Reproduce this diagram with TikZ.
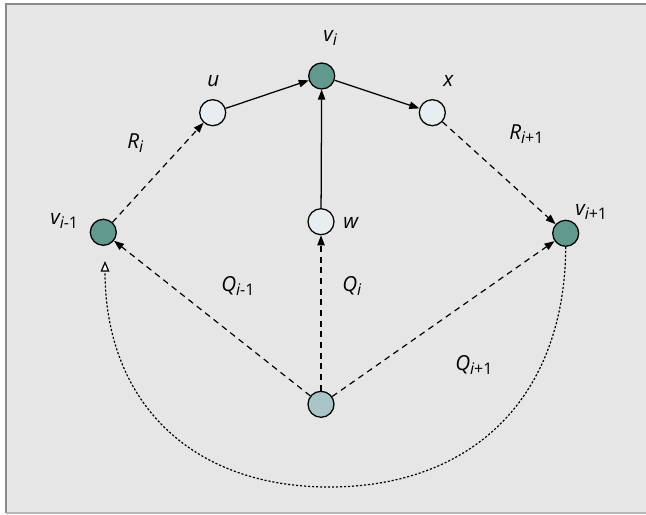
\documentclass[tikz,border=0pt]{standalone}
\usepackage{fontspec}
\setmainfont{Open Sans}
\usetikzlibrary{arrows.meta}
\definecolor{bgfill}{HTML}{E6E6E6}
\definecolor{framedark}{HTML}{8A8A8A}
\definecolor{framelight}{HTML}{B4B4B4}
\definecolor{nodedark}{HTML}{62998F}
\definecolor{nodelight}{HTML}{E8EEF0}
\definecolor{nodemid}{HTML}{A9C5C8}
\newcommand\lowsub[1]{\raisebox{-0.45ex}{\fontsize{12}{14}\selectfont #1}}
\begin{document}
\begin{tikzpicture}[x=0.75pt,y=-0.75pt,
  nd/.style={circle,draw=black,line width=0.95pt,minimum size=19.5pt,inner sep=0pt},
  dark/.style={nd,fill=nodedark},
  light/.style={nd,fill=nodelight},
  mid/.style={nd,fill=nodemid},
  lbl/.style={font=\fontsize{15.5}{18}\selectfont\itshape,inner sep=0pt,anchor=base west},
  sol/.style={line width=0.95pt,-{Triangle[length=7.5pt,width=5.5pt]}},
  dsh/.style={line width=0.9pt,dash pattern=on 4.5pt off 3.5pt,-{Triangle[length=7.5pt,width=5.5pt]}},
  dotted arc/.style={line width=0.9pt,dash pattern=on 1.6pt off 1.4pt,-{Triangle[open,fill=white,length=8pt,width=6.5pt]}}
]
\useasboundingbox (0,0) rectangle (646,514);
\fill[white] (0,0) rectangle (646,514);
\fill[bgfill] (6,4) rectangle (646,513);
\draw[framedark,line width=1.5pt] (6,513) -- (6,4) -- (646,4);
\draw[framelight,line width=1.2pt] (6,513) -- (646,513);

% nodes
\node[dark]  (vi)  at (321.7,76) {};
\node[light] (u)   at (212.7,112.7) {};
\node[light] (x)   at (432.3,112.7) {};
\node[light] (w)   at (321,221.7) {};
\node[dark]  (vim) at (103.3,232.3) {};
\node[dark]  (vip) at (565.7,233.3) {};
\node[mid]   (s)   at (321,404.3) {};
\coordinate (tip) at (105,261);

% labels
\node[lbl] (lvi)  at (323,41)  {v\lowsub{i}};
\node[lbl] (lu)   at (207,86)  {u};
\node[lbl] (lx)   at (443,86)  {x};
\node[lbl] (lw)   at (343,228) {w};
\node[lbl] (lvim) at (50,224)  {v\lowsub{\itshape i\upshape -1}};
\node[lbl] (lvip) at (575,215) {v\lowsub{\itshape i\upshape +1}};
\node[lbl] (lri)  at (127,148) {R\lowsub{i}};
\node[lbl] (lrip) at (509,139) {R\lowsub{\itshape i\upshape +1}};
\node[lbl] (lqim) at (221,291) {Q\lowsub{\itshape i\upshape -1}};
\node[lbl] (lqi)  at (342,291) {Q\lowsub{i}};
\node[lbl] (lqip) at (455,370) {Q\lowsub{\itshape i\upshape +1}};

% connectors
\draw[sol] (u) -- (vi);
\draw[sol] (vi) -- (x);
\draw[sol] (w) -- (vi);
\draw[dsh] (vim) -- (u);
\draw[dsh] (x) -- (vip);
\draw[dsh] (s) -- (vim);
\draw[dsh] (s) -- (w);
\draw[dsh] (s) -- (vip);
\draw[dotted arc] (vip.south) .. controls (565,395) and (475,487) .. (329,487)
  .. controls (190,487) and (105,401) .. (tip);
\end{tikzpicture}
\end{document}
